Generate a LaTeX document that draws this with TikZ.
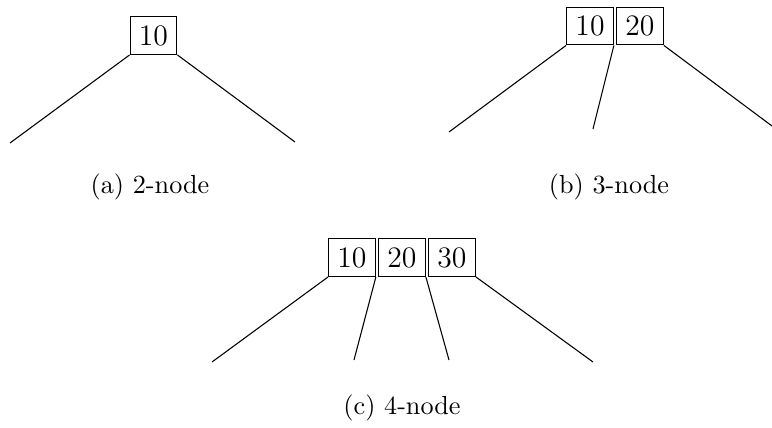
\documentclass[tikz,border=0pt]{standalone}
\usepackage{amsmath,amssymb}
\usepackage{tikz}
\usetikzlibrary{arrows,shapes}

\tikzset{
	keybox/.style={fill=white, draw=black, shape=rectangle, inner sep=0pt, minimum width=17.3pt, minimum height=14pt, font=\fontsize{11}{13}\selectfont},
	capt/.style={inner sep=0pt, font=\fontsize{9.7}{12}\selectfont}
}

\begin{document}
\begin{tikzpicture}[x=0.3704pt,y=-0.3704pt]
	\useasboundingbox (0,0) rectangle (772,428);
	
	% 2-node
	\node [keybox] (a10) at (153.5, 35.5) {10};
	\coordinate (aL) at (10, 143);
	\coordinate (aR) at (295, 142);
	\draw [fill=none] (a10.south west) to (aL);
	\draw [fill=none] (a10.south east) to (aR);
	\node [capt] (capa) at (150, 187) {(a) 2-node};
	
	% 3-node
	\node [keybox] (b10) at (590, 26) {10};
	\node [keybox] (b20) at (640, 26) {20};
	\coordinate (bL) at (449, 132);
	\coordinate (bM) at (593, 129);
	\coordinate (bR) at (772, 126);
	\draw [fill=none] (b10.south west) to (bL);
	\draw [fill=none] (b10.south east) to (bM);
	\draw [fill=none] (b20.south east) to (bR);
	\node [capt] (capb) at (609, 187) {(b) 3-node};
	
	% 4-node
	\node [keybox] (c10) at (352, 257.5) {10};
	\node [keybox] (c20) at (402, 257.5) {20};
	\node [keybox] (c30) at (452, 257.5) {30};
	\coordinate (cL) at (212, 362);
	\coordinate (cML) at (354, 360);
	\coordinate (cMR) at (449, 360);
	\coordinate (cR) at (593, 362);
	\draw [fill=none] (c10.south west) to (cL);
	\draw [fill=none] (c10.south east) to (cML);
	\draw [fill=none] (c20.south east) to (cMR);
	\draw [fill=none] (c30.south east) to (cR);
	\node [capt] (capc) at (402, 408) {(c) 4-node};
\end{tikzpicture}
\end{document}
